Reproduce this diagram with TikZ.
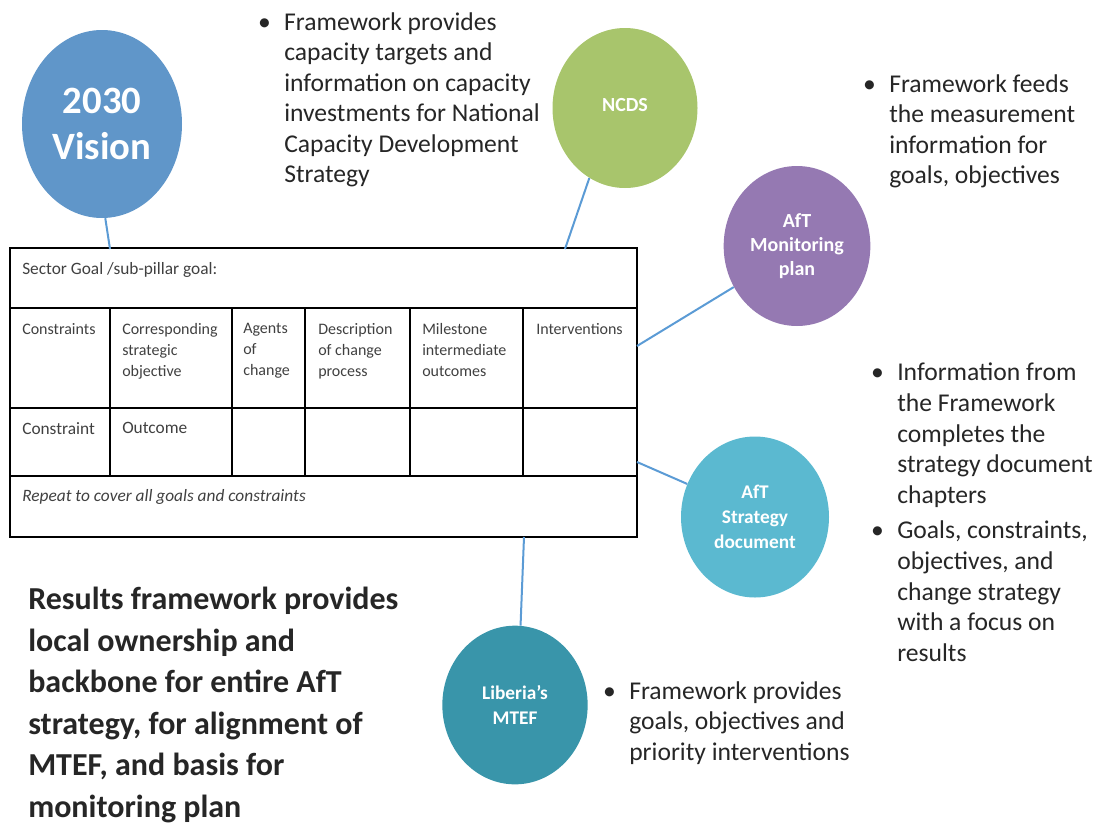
\documentclass[tikz,border=0pt]{standalone}
\usepackage{fontspec}
\setmainfont{Carlito}
\usetikzlibrary{shapes.geometric}
\definecolor{visionblue}{HTML}{6096C9}
\definecolor{ncdsgreen}{HTML}{A8C56C}
\definecolor{monpurple}{HTML}{9579B2}
\definecolor{stratcyan}{HTML}{5BB9D0}
\definecolor{mtefteal}{HTML}{3995AA}
\definecolor{linkblue}{HTML}{5B9BD5}
\definecolor{notegray}{HTML}{262626}
\definecolor{cellgray}{HTML}{404040}
\newcommand{\bul}{\llap{\textbullet\hspace{10pt}}}
\begin{document}
\begin{tikzpicture}[x=0.75pt,y=-0.75pt,
  bubble/.style={ellipse, inner sep=0pt, text=white, align=center,
    font=\bfseries\fontsize{14.5}{18.5}\selectfont},
  link/.style={draw=linkblue, line width=1.5pt},
  note/.style={anchor=north west, inner sep=0pt, align=left, text=notegray,
    font=\fontsize{19.2}{22.9}\selectfont},
  bignote/.style={anchor=north west, inner sep=0pt, align=left, text=notegray,
    font=\bfseries\fontsize{24}{31.1}\selectfont},
  cell/.style={anchor=north west, inner sep=0pt, align=left, text=cellgray,
    font=\fontsize{12}{15.75}\selectfont},
  grid/.style={line width=1.5pt, draw=black}]
\useasboundingbox (0,0) rectangle (1096,825);

% circles
\node[bubble, fill=visionblue, minimum width=120pt, minimum height=141pt,
  font=\bfseries\fontsize{29}{34.5}\selectfont] (vision) at (102,124) {2030\\Vision};
\node[bubble, fill=ncdsgreen, minimum width=108.75pt, minimum height=120pt,
  font=\bfseries\fontsize{15}{18}\selectfont] (ncds) at (625,108) {\raisebox{5pt}{NCDS}};
\node[bubble, fill=monpurple, minimum width=110pt, minimum height=120pt,
  font=\bfseries\fontsize{15}{18}\selectfont] (mon) at (797,246) {AfT\\Monitoring\\plan};
\node[bubble, fill=stratcyan, minimum width=111pt, minimum height=120.75pt] (strat) at (755,517) {AfT\\Strategy\\document};
\node[bubble, fill=mtefteal, minimum width=109pt, minimum height=119pt] (mtef) at (515,705) {Liberia's\\MTEF};

% table
\node[grid, draw, minimum width=470.25pt, minimum height=216.75pt, inner sep=0pt] (table) at (323.5,392.5) {};
\draw[grid] (10,308) -- (637,308);
\draw[grid] (10,408) -- (637,408);
\draw[grid] (10,476) -- (637,476);
\foreach \cx in {110,232,305,410,523}
  \draw[grid] (\cx,308) -- (\cx,476);

\node[cell, font=\fontsize{13}{15.75}\selectfont] (c0) at (22,262) {Sector Goal /sub-pillar goal:};
\node[cell] (c1) at (22,323) {Constraints};
\node[cell] (c2) at (122,323) {Corresponding\\strategic\\objective};
\node[cell] (c3) at (243,323) {Agents\\of\\change};
\node[cell] (c4) at (318,323) {Description\\of change\\process};
\node[cell] (c5) at (422,323) {Milestone\\intermediate\\outcomes};
\node[cell] (c6) at (536,323) {Interventions};
\node[cell, font=\fontsize{13}{15.75}\selectfont] (c7) at (22,422) {Constraint};
\node[cell, font=\fontsize{13}{15.75}\selectfont] (c8) at (122,422) {Outcome};
\node[cell, font=\itshape\fontsize{13}{15.75}\selectfont] (c9) at (22,489) {Repeat to cover all goals and constraints};

% connectors
\coordinate (tv) at (110,249);
\coordinate (tn) at (565,249);
\coordinate (tm) at (637,346);
\coordinate (ts) at (637,462);
\coordinate (tb) at (524,537);
\draw[link] (vision.272) -- (tv);
\draw[link] (ncds.243) -- (tn);
\draw[link] (mon.213) -- (tm);
\draw[link] (strat.154) -- (ts);
\draw[link] (mtef.86) -- (tb);

% notes
\node[note] (n1) at (284,12) {\bul Framework provides\\capacity targets and\\information on capacity\\investments for National\\Capacity Development\\Strategy};
\node[note] (n2) at (889,74) {\bul Framework feeds\\the measurement\\information for\\goals, objectives};
\node[note] (n3) at (897,363) {\bul Information from\\the Framework\\completes the\\strategy document\\chapters\\[4pt]\bul Goals, constraints,\\objectives, and\\change strategy\\with a focus on\\results};
\node[note] (n4) at (629,681) {\bul Framework provides\\goals, objectives and\\priority interventions};
\node[bignote] (n5) at (28,587) {Results framework provides\\local ownership and\\backbone for entire AfT\\strategy, for alignment of\\MTEF, and basis for\\monitoring plan};
\end{tikzpicture}
\end{document}
